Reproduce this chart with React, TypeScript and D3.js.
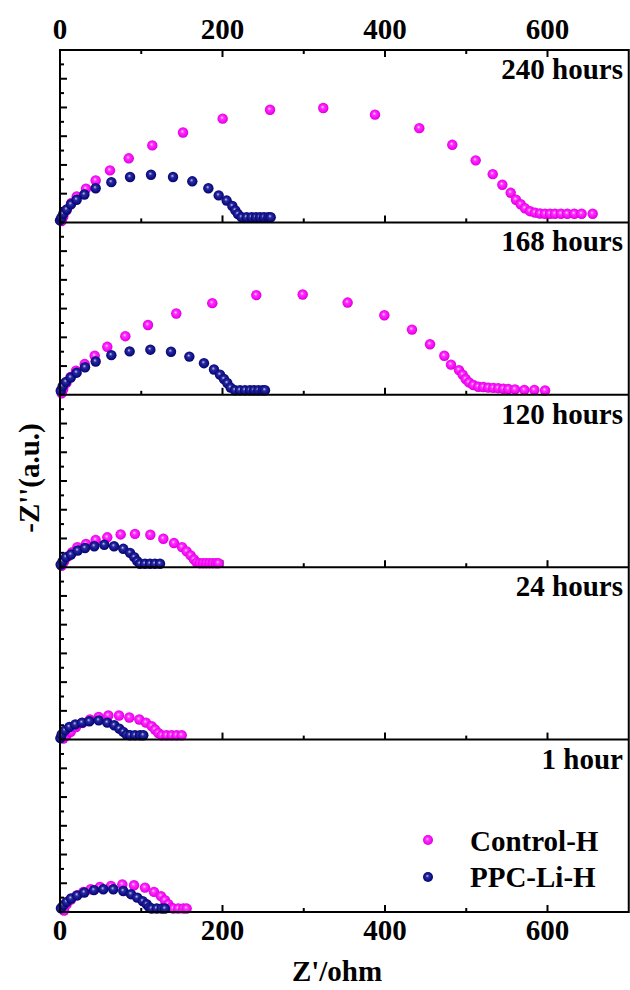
import React from "react";
import * as d3 from "d3";

type Pt = [number, number];

// Nyquist data: Z' (ohm) vs -Z'' (a.u.) for each ageing time
const panelLabels = ["240 hours", "168 hours", "120 hours", "24 hours", "1 hour"];
const seriesNames = ["Control-H", "PPC-Li-H"];

const control240: Pt[] = [[2,0.05],[4,0.2],[8,0.42],[14,0.68],[20.6,0.90],[32,1.17],[43.9,1.46],[61.5,1.81],[84.6,2.23],[113.6,2.68],[151.4,3.13],[200.2,3.61],[258.5,3.92],[324,3.98],[387.7,3.75],[442.2,3.28],[482.8,2.70],[511.6,2.16],[532.6,1.68],[544.4,1.31],[554.7,1.03],[561.2,0.79],[567,0.63],[572.3,0.49],[578.5,0.39],[584.6,0.34],[590.8,0.31],[596.9,0.30],[603.1,0.30],[609.2,0.30],[616.6,0.30],[624.4,0.30],[633,0.30],[642,0.30],[655.6,0.30]];
const ppc240: Pt[] = [[0,0.07],[1.6,0.16],[4.1,0.30],[8.2,0.45],[13.5,0.63],[20.5,0.79],[30,0.97],[43.9,1.19],[63.2,1.40],[86.2,1.58],[112,1.66],[139.1,1.58],[162.8,1.43],[182.6,1.19],[195.3,0.94],[205.1,0.76],[212.1,0.57],[215.8,0.42],[219,0.29],[223.6,0.18],[229.7,0.18],[235.9,0.18],[241.2,0.18],[246.2,0.18],[251.1,0.18],[256.4,0.18],[259.3,0.18]];

const control168: Pt[] = [[2,0.05],[4,0.2],[8,0.42],[13,0.62],[19.7,0.84],[30.4,1.07],[42.7,1.36],[58.2,1.67],[80.4,2.04],[108.3,2.43],[143.1,2.83],[187.4,3.19],[241.6,3.47],[298.7,3.49],[354,3.21],[399.2,2.77],[433.2,2.27],[455.4,1.76],[473,1.36],[481.2,1.05],[491.1,0.86],[495.6,0.70],[499.3,0.55],[503.4,0.43],[508.7,0.34],[514.8,0.28],[521,0.27],[527.1,0.25],[533.3,0.24],[539.4,0.23],[545.6,0.21],[551.8,0.20],[560,0.19],[571.5,0.17],[583.8,0.17],[597,0.15]];
const ppc168: Pt[] = [[0.9,0.14],[3.3,0.30],[7.4,0.45],[13.2,0.60],[20.5,0.77],[30.8,0.96],[43.9,1.16],[63.2,1.38],[85.7,1.51],[111.2,1.57],[136.6,1.50],[159.2,1.33],[177.2,1.10],[189.5,0.88],[196.9,0.70],[201.8,0.55],[205.9,0.41],[210,0.25],[215.4,0.16],[221.5,0.16],[227.7,0.16],[233.8,0.16],[238.8,0.16],[244.1,0.16],[249.4,0.16],[252.3,0.16]];

const control120: Pt[] = [[2,0.05],[5,0.2],[10,0.38],[15,0.52],[21.3,0.70],[32,0.81],[43.9,0.95],[58.2,1.04],[74.7,1.14],[92.3,1.16],[111.2,1.13],[127.2,0.99],[140.3,0.84],[150.2,0.70],[155.9,0.55],[160.8,0.41],[164.9,0.27],[168.2,0.16],[172,0.14],[176,0.14],[180,0.14],[184,0.14],[188,0.14],[192,0.14],[195,0.14]];
const ppc120: Pt[] = [[0.8,0.09],[3.3,0.21],[7.4,0.35],[13.5,0.44],[21.8,0.58],[30.8,0.67],[42.2,0.73],[54.5,0.78],[66.5,0.73],[77.9,0.64],[86.2,0.50],[91.4,0.35],[95.1,0.21],[98.5,0.12],[104.6,0.12],[110.8,0.12],[116.9,0.12],[123.1,0.12]];

const control24: Pt[] = [[4,0.04],[8,0.14],[13.2,0.27],[19.7,0.44],[27.9,0.58],[36.9,0.70],[47.6,0.79],[59.5,0.84],[72.6,0.84],[85.3,0.77],[97.6,0.70],[105.8,0.59],[112.8,0.47],[116.9,0.35],[121,0.23],[125.2,0.15],[131.3,0.15],[137.5,0.15],[143.6,0.15],[149.8,0.15]];
const ppc24: Pt[] = [[0.5,0.05],[2.1,0.18],[6.2,0.32],[11.5,0.44],[18.9,0.53],[27.1,0.59],[36.1,0.64],[47.6,0.67],[58.2,0.59],[66.8,0.50],[73,0.38],[77.9,0.27],[82,0.17],[86.2,0.15],[92.3,0.15],[98.5,0.15],[102.5,0.15]];

const control1: Pt[] = [[5,0.05],[8.2,0.27],[13.5,0.43],[20.5,0.58],[28.7,0.70],[37.8,0.79],[49.2,0.87],[62.8,0.91],[76.7,0.96],[91.1,0.93],[104.6,0.85],[115.7,0.70],[124.3,0.55],[129.2,0.41],[133.3,0.27],[136.5,0.15],[139.5,0.12],[145.6,0.12],[151.8,0.12],[155.9,0.12]];
const ppc1: Pt[] = [[1.2,0.13],[4.1,0.24],[8.2,0.35],[13.5,0.47],[21.3,0.58],[29.9,0.68],[41.8,0.76],[53.3,0.79],[65.6,0.79],[77.9,0.73],[87.4,0.62],[95.1,0.50],[101.8,0.38],[106.7,0.27],[110,0.16],[112.8,0.12],[119,0.12],[125.2,0.12],[129.2,0.12]];

const controlSets = [control240, control168, control120, control24, control1];
const ppcSets = [ppc240, ppc168, ppc120, ppc24, ppc1];

const xMajorTicks = [0, 200, 400, 600];
const xMinorTicks = [100, 300, 500];
const yMajorTicks = [1, 2, 3, 4, 5];
const yMinorTicks = [0.5, 1.5, 2.5, 3.5, 4.5, 5.5];

const W = 630;
const H = 990;
const left = 60;
const right = 628.75;
const top = 50;
const panelH = 172.4;
const font = "'Liberation Serif', 'Times New Roman', serif";
const fs = 29;

export default function App() {
  const x = d3.scaleLinear().domain([0, 700]).range([left, right]);
  const bottom = top + panelH * 5;

  const panels = panelLabels.map((label, i) => {
    const pTop = top + i * panelH;
    const pBot = pTop + panelH;
    const y = d3.scaleLinear().domain([0, 6]).range([pBot, pTop]);
    return (
      <g key={label}>
        {/* bottom x ticks, pointing up */}
        {xMajorTicks.map((t) => (
          <line key={"xM" + t} x1={x(t)} x2={x(t)} y1={pBot} y2={pBot - 7} stroke="#000" strokeWidth={2} />
        ))}
        {xMinorTicks.map((t) => (
          <line key={"xm" + t} x1={x(t)} x2={x(t)} y1={pBot} y2={pBot - 4} stroke="#000" strokeWidth={2} />
        ))}
        {/* left y ticks, pointing right */}
        {yMajorTicks.map((t) => (
          <line key={"yM" + t} x1={left} x2={left + 7} y1={y(t)} y2={y(t)} stroke="#000" strokeWidth={2} />
        ))}
        {yMinorTicks.map((t) => (
          <line key={"ym" + t} x1={left} x2={left + 4} y1={y(t)} y2={y(t)} stroke="#000" strokeWidth={2} />
        ))}
        {controlSets[i].map((d, k) => (
          <circle key={"c" + k} cx={x(d[0])} cy={y(d[1])} r={5.2} fill="url(#gradControl)" />
        ))}
        {ppcSets[i].map((d, k) => (
          <circle key={"p" + k} cx={x(d[0])} cy={y(d[1])} r={5.2} fill="url(#gradPpc)" />
        ))}
        <text x={623} y={pTop + 29} textAnchor="end" fontFamily={font} fontWeight="bold" fontSize={fs}>
          {label}
        </text>
        <line x1={left} x2={right} y1={pBot} y2={pBot} stroke="#000" strokeWidth={2} />
      </g>
    );
  });

  return (
    <svg width={W} height={H} style={{ position: "absolute", left: 0, top: 0 }}>
      <defs>
        <radialGradient id="gradControl" cx="0.5" cy="0.5" r="0.55" fx="0.42" fy="0.38">
          <stop offset="0" stopColor="#ffd8ff" />
          <stop offset="0.3" stopColor="#ff30ff" />
          <stop offset="0.8" stopColor="#f000f0" />
          <stop offset="1" stopColor="#b000b0" />
        </radialGradient>
        <radialGradient id="gradPpc" cx="0.5" cy="0.5" r="0.55" fx="0.42" fy="0.38">
          <stop offset="0" stopColor="#c8c8f0" />
          <stop offset="0.3" stopColor="#2a2aa0" />
          <stop offset="0.8" stopColor="#0a0a80" />
          <stop offset="1" stopColor="#000050" />
        </radialGradient>
      </defs>
      <rect x={0} y={0} width={W} height={H} fill="#fff" />
      {panels}
      {/* top axis ticks, pointing down */}
      {xMajorTicks.map((t) => (
        <line key={"tM" + t} x1={x(t)} x2={x(t)} y1={top} y2={top + 7} stroke="#000" strokeWidth={2} />
      ))}
      {xMinorTicks.map((t) => (
        <line key={"tm" + t} x1={x(t)} x2={x(t)} y1={top} y2={top + 4} stroke="#000" strokeWidth={2} />
      ))}
      {/* frame */}
      <rect x={left} y={top} width={right - left} height={bottom - top} fill="none" stroke="#000" strokeWidth={2} />
      {/* tick labels */}
      {xMajorTicks.map((t) => (
        <text key={"lt" + t} x={x(t)} y={39} textAnchor="middle" fontFamily={font} fontWeight="bold" fontSize={fs}>
          {t}
        </text>
      ))}
      {xMajorTicks.map((t) => (
        <text key={"lb" + t} x={x(t)} y={940} textAnchor="middle" fontFamily={font} fontWeight="bold" fontSize={fs}>
          {t}
        </text>
      ))}
      {/* axis titles */}
      <text x={337} y={981} textAnchor="middle" fontFamily={font} fontWeight="bold" fontSize={fs}>
        Z'/ohm
      </text>
      <text
        transform={`translate(39,478) rotate(-90)`}
        textAnchor="middle"
        fontFamily={font}
        fontWeight="bold"
        fontSize={fs}
      >
        -Z''(a.u.)
      </text>
      {/* legend */}
      <circle cx={428} cy={840} r={5} fill="url(#gradControl)" />
      <text x={470} y={851} fontFamily={font} fontWeight="bold" fontSize={fs}>
        {seriesNames[0]}
      </text>
      <circle cx={428} cy={877} r={5} fill="url(#gradPpc)" />
      <text x={470} y={887} fontFamily={font} fontWeight="bold" fontSize={fs}>
        {seriesNames[1]}
      </text>
    </svg>
  );
}
